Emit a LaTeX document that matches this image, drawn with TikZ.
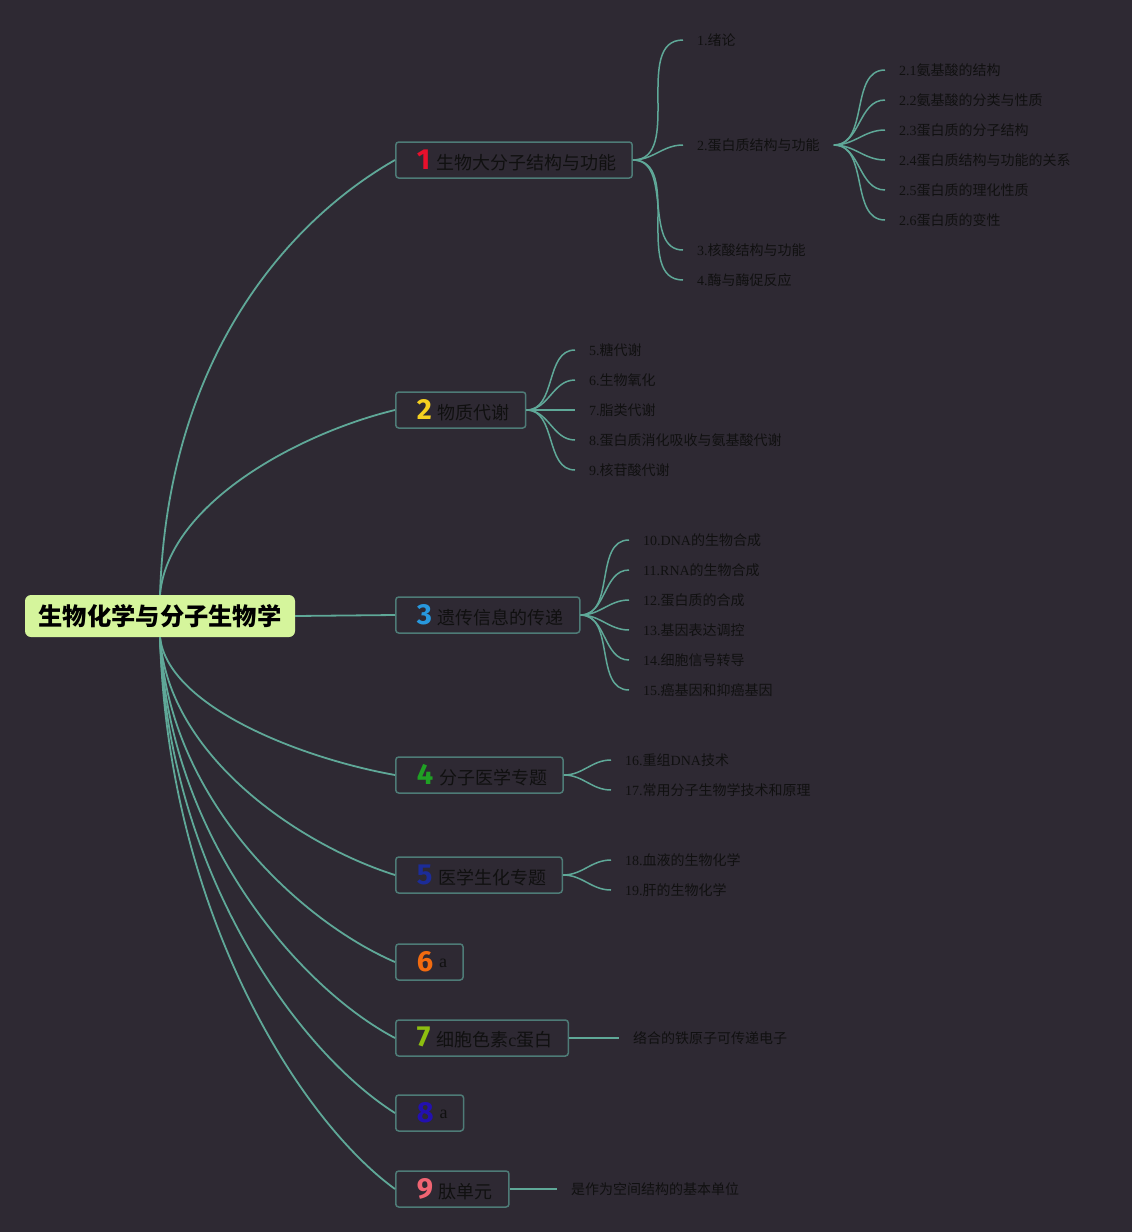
\documentclass[tikz,border=0pt]{standalone}
\usepackage{fontspec}
\setmainfont{Liberation Serif}
\newfontfamily\cjk{Noto Sans CJK SC}
\newfontfamily\numfont{Fira Sans}
\newcommand{\zh}[1]{{\cjk #1}}
\newcommand{\num}[2]{\hspace*{5pt}{\numfont\bfseries\fontsize{29}{29}\selectfont\color{#1}#2}\hspace{6pt}}
\definecolor{fond}{HTML}{2E2933}
\definecolor{trait}{HTML}{5FA898}
\definecolor{cadre}{HTML}{4E7B77}
\definecolor{encre}{HTML}{101010}
\definecolor{racine}{HTML}{D5F59C}
\definecolor{n1}{HTML}{E8102C}
\definecolor{n2}{HTML}{F5D020}
\definecolor{n3}{HTML}{2898DE}
\definecolor{n4}{HTML}{1FA024}
\definecolor{n5}{HTML}{1C2C98}
\definecolor{n6}{HTML}{F26B10}
\definecolor{n7}{HTML}{8DBE10}
\definecolor{n8}{HTML}{2310B0}
\definecolor{n9}{HTML}{F06472}
\begin{document}
\begin{tikzpicture}[x=1pt,y=-1pt,
  racinebox/.style={fill=racine,rounded corners=6pt,minimum width=270pt,minimum height=42pt,inner sep=0pt,text=black,font=\cjk\bfseries\fontsize{24.3}{26}\selectfont},
  branche/.style={draw=cadre,line width=1.5pt,rounded corners=3pt,minimum height=36pt,inner xsep=16pt,inner ysep=0pt,anchor=west,text=encre,font=\fontsize{18}{20}\selectfont},
  feuille/.style={anchor=west,inner xsep=14pt,inner ysep=2pt,text=encre,font=\fontsize{14}{16}\selectfont},
  lien/.style={draw=trait,line width=1.8pt},
  petitlien/.style={draw=trait,line width=1.5pt}]
\fill[fond] (0,0) rectangle (1132,1232);
\useasboundingbox (0,0) rectangle (1132,1232);

\node[racinebox] (racine) at (160,616) {生物化学与分子生物学};

\node[branche] (b1) at (395,160) {\num{n1}{1}\zh{生物大分子结构与功能}};
\node[branche] (b2) at (395,410) {\num{n2}{2}\zh{物质代谢}};
\node[branche] (b3) at (395,615) {\num{n3}{3}\zh{遗传信息的传递}};
\node[branche] (b4) at (395,775) {\num{n4}{4}\zh{分子医学专题}};
\node[branche] (b5) at (395,875) {\num{n5}{5}\zh{医学生化专题}};
\node[branche] (b6) at (395,962) {\num{n6}{6}\raisebox{4pt}{a}};
\node[branche] (b7) at (395,1038) {\num{n7}{7}\zh{细胞色素}c\zh{蛋白}};
\node[branche] (b8) at (395,1113) {\num{n8}{8}\raisebox{4pt}{a}};
\node[branche] (b9) at (395,1189) {\num{n9}{9}\zh{肽单元}};

\draw[lien] (racine.north) .. controls +(8,-250) and +(-95,54) .. (b1.west);
\draw[lien] (racine.north) .. controls +(8,-92) and +(-95,23) .. (b2.west);
\draw[lien] (racine.east) -- (b3.west);
\draw[lien] (racine.south) .. controls +(8,69) and +(-95,-17) .. (b4.west);
\draw[lien] (racine.south) .. controls +(8,119) and +(-95,-30) .. (b5.west);
\draw[lien] (racine.south) .. controls +(8,162) and +(-95,-41) .. (b6.west);
\draw[lien] (racine.south) .. controls +(8,200) and +(-95,-50) .. (b7.west);
\draw[lien] (racine.south) .. controls +(8,238) and +(-95,-60) .. (b8.west);
\draw[lien] (racine.south) .. controls +(8,276) and +(-95,-69) .. (b9.west);

% 1
\node[feuille] (l11) at (683,40) {1.\zh{绪论}};
\node[feuille] (l12) at (683,145) {2.\zh{蛋白质结构与功能}};
\node[feuille] (l13) at (683,250) {3.\zh{核酸结构与功能}};
\node[feuille] (l14) at (683,280) {4.\zh{酶与酶促反应}};
\foreach \f in {l11,l12,l13,l14}
  \draw[petitlien] (b1.east) to[out=0,in=180] (\f.west);

\node[feuille] (l121) at (885,70) {2.1\zh{氨基酸的结构}};
\node[feuille] (l122) at (885,100) {2.2\zh{氨基酸的分类与性质}};
\node[feuille] (l123) at (885,130) {2.3\zh{蛋白质的分子结构}};
\node[feuille] (l124) at (885,160) {2.4\zh{蛋白质结构与功能的关系}};
\node[feuille] (l125) at (885,190) {2.5\zh{蛋白质的理化性质}};
\node[feuille] (l126) at (885,220) {2.6\zh{蛋白质的变性}};
\foreach \f in {l121,l122,l123,l124,l125,l126}
  \draw[petitlien] (l12.east) to[out=0,in=180] (\f.west);

% 2
\node[feuille] (l21) at (575,350) {5.\zh{糖代谢}};
\node[feuille] (l22) at (575,380) {6.\zh{生物氧化}};
\node[feuille] (l23) at (575,410) {7.\zh{脂类代谢}};
\node[feuille] (l24) at (575,440) {8.\zh{蛋白质消化吸收与氨基酸代谢}};
\node[feuille] (l25) at (575,470) {9.\zh{核苷酸代谢}};
\foreach \f in {l21,l22,l23,l24,l25}
  \draw[petitlien] (b2.east) to[out=0,in=180] (\f.west);

% 3
\node[feuille] (l31) at (629,540) {10.DNA\zh{的生物合成}};
\node[feuille] (l32) at (629,570) {11.RNA\zh{的生物合成}};
\node[feuille] (l33) at (629,600) {12.\zh{蛋白质的合成}};
\node[feuille] (l34) at (629,630) {13.\zh{基因表达调控}};
\node[feuille] (l35) at (629,660) {14.\zh{细胞信号转导}};
\node[feuille] (l36) at (629,690) {15.\zh{癌基因和抑癌基因}};
\foreach \f in {l31,l32,l33,l34,l35,l36}
  \draw[petitlien] (b3.east) to[out=0,in=180] (\f.west);

% 4 et 5
\node[feuille] (l41) at (611,760) {16.\zh{重组}DNA\zh{技术}};
\node[feuille] (l42) at (611,790) {17.\zh{常用分子生物学技术和原理}};
\foreach \f in {l41,l42}
  \draw[petitlien] (b4.east) to[out=0,in=180] (\f.west);
\node[feuille] (l51) at (611,860) {18.\zh{血液的生物化学}};
\node[feuille] (l52) at (611,890) {19.\zh{肝的生物化学}};
\foreach \f in {l51,l52}
  \draw[petitlien] (b5.east) to[out=0,in=180] (\f.west);

% 7 et 9
\node[feuille] (l71) at (619,1038) {\zh{络合的铁原子可传递电子}};
\draw[petitlien] (b7.east) -- (l71.west);
\node[feuille] (l91) at (557,1189) {\zh{是作为空间结构的基本单位}};
\draw[petitlien] (b9.east) -- (l91.west);
\end{tikzpicture}
\end{document}
